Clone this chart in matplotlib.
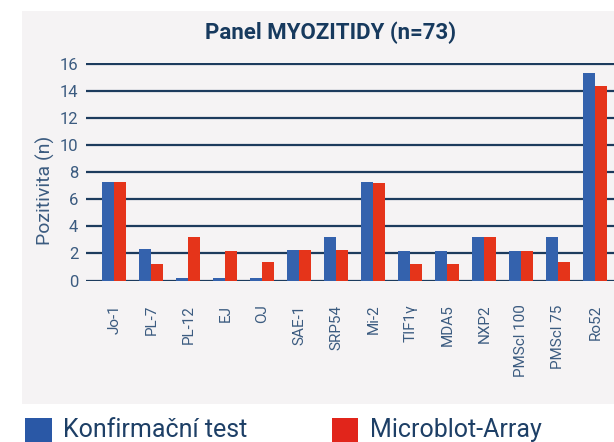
import numpy as np
import matplotlib
matplotlib.use("Agg")
import matplotlib.pyplot as plt
from matplotlib.patches import Rectangle

plt.rcParams['font.family'] = ['Roboto', 'DejaVu Sans']

# data
categories = ['Jo-1', 'PL-7', 'PL-12', 'EJ', 'OJ', 'SAE-1', 'SRP54', 'Mi-2',
              'TIF1γ', 'MDA5', 'NXP2', 'PMScl 100', 'PMScl 75', 'Ro52']
konfirmacni = [7.3, 2.35, 0.22, 0.22, 0.22, 2.22, 3.2, 7.3, 2.15, 2.15, 3.2, 2.15, 3.25, 15.3]
microblot = [7.3, 1.25, 3.25, 2.15, 1.35, 2.22, 2.22, 7.22, 1.2, 1.2, 3.2, 2.15, 1.35, 14.35]
y_ticks = [0, 2, 4, 6, 8, 10, 12, 14, 16]

blue = '#3462ad'
red = '#e5341a'
navy = '#173a5e'
grid_col = '#1c3b5d'
tick_col = '#3b5b80'
panel_col = '#f5f3f4'

fig = plt.figure(figsize=(6.14, 4.42), dpi=100)
W, H = 614, 442

# grey panel behind the chart
fig.patches.append(Rectangle((22 / W, 1 - 404 / H), 1 - 22 / W, (404 - 11) / H,
                             transform=fig.transFigure, facecolor=panel_col,
                             edgecolor='none', zorder=-1))

ax = fig.add_axes([86 / W, 1 - 281 / H, 1 - 86 / W, (281 - 63) / H])
ax.set_facecolor('none')

x = np.arange(len(categories))
w = 0.325
ax.bar(x - w / 2, konfirmacni, w, color=blue, zorder=3)
ax.bar(x + w / 2, microblot, w, color=red, zorder=3)

ax.set_xlim(-0.765, 13.505)
ax.set_ylim(-0.03, 16.05)
ax.set_yticks(y_ticks)
ax.set_yticklabels([str(t) for t in y_ticks])
ax.set_xticks(x)
ax.set_xticklabels(categories, rotation=90, va='top', ha='center')

ax.yaxis.grid(True, color=grid_col, linewidth=1.6, zorder=1)
ax.set_axisbelow(True)
for s in ax.spines.values():
    s.set_visible(False)
ax.tick_params(axis='y', length=0, pad=5.5, labelsize=12, labelcolor=tick_col)
ax.tick_params(axis='x', length=0, pad=17, labelsize=11, labelcolor=tick_col)

fig.text(331 / W, 1 - 33 / H, 'Panel MYOZITIDY (n=73)', ha='center', va='center',
         fontsize=16, fontweight='bold', color=navy)
fig.text(45 / W, 1 - 190 / H, 'Pozitivita (n)', rotation=90, ha='center', va='center',
         fontsize=14, color=tick_col)

# legend below the panel
fig.patches.append(Rectangle((25 / W, 0), 27 / W, 24 / H, transform=fig.transFigure,
                             facecolor='#2a58a6', edgecolor='none'))
fig.patches.append(Rectangle((332 / W, 0), 26 / W, 24 / H, transform=fig.transFigure,
                             facecolor='#e1251b', edgecolor='none'))
fig.text(63 / W, 5 / H, 'Konfirmační test', ha='left', va='baseline',
         fontsize=18, color='#1d3f66')
fig.text(370 / W, 5 / H, 'Microblot-Array', ha='left', va='baseline',
         fontsize=18, color='#1d3f66')

fig.savefig('out.png', dpi=100)
